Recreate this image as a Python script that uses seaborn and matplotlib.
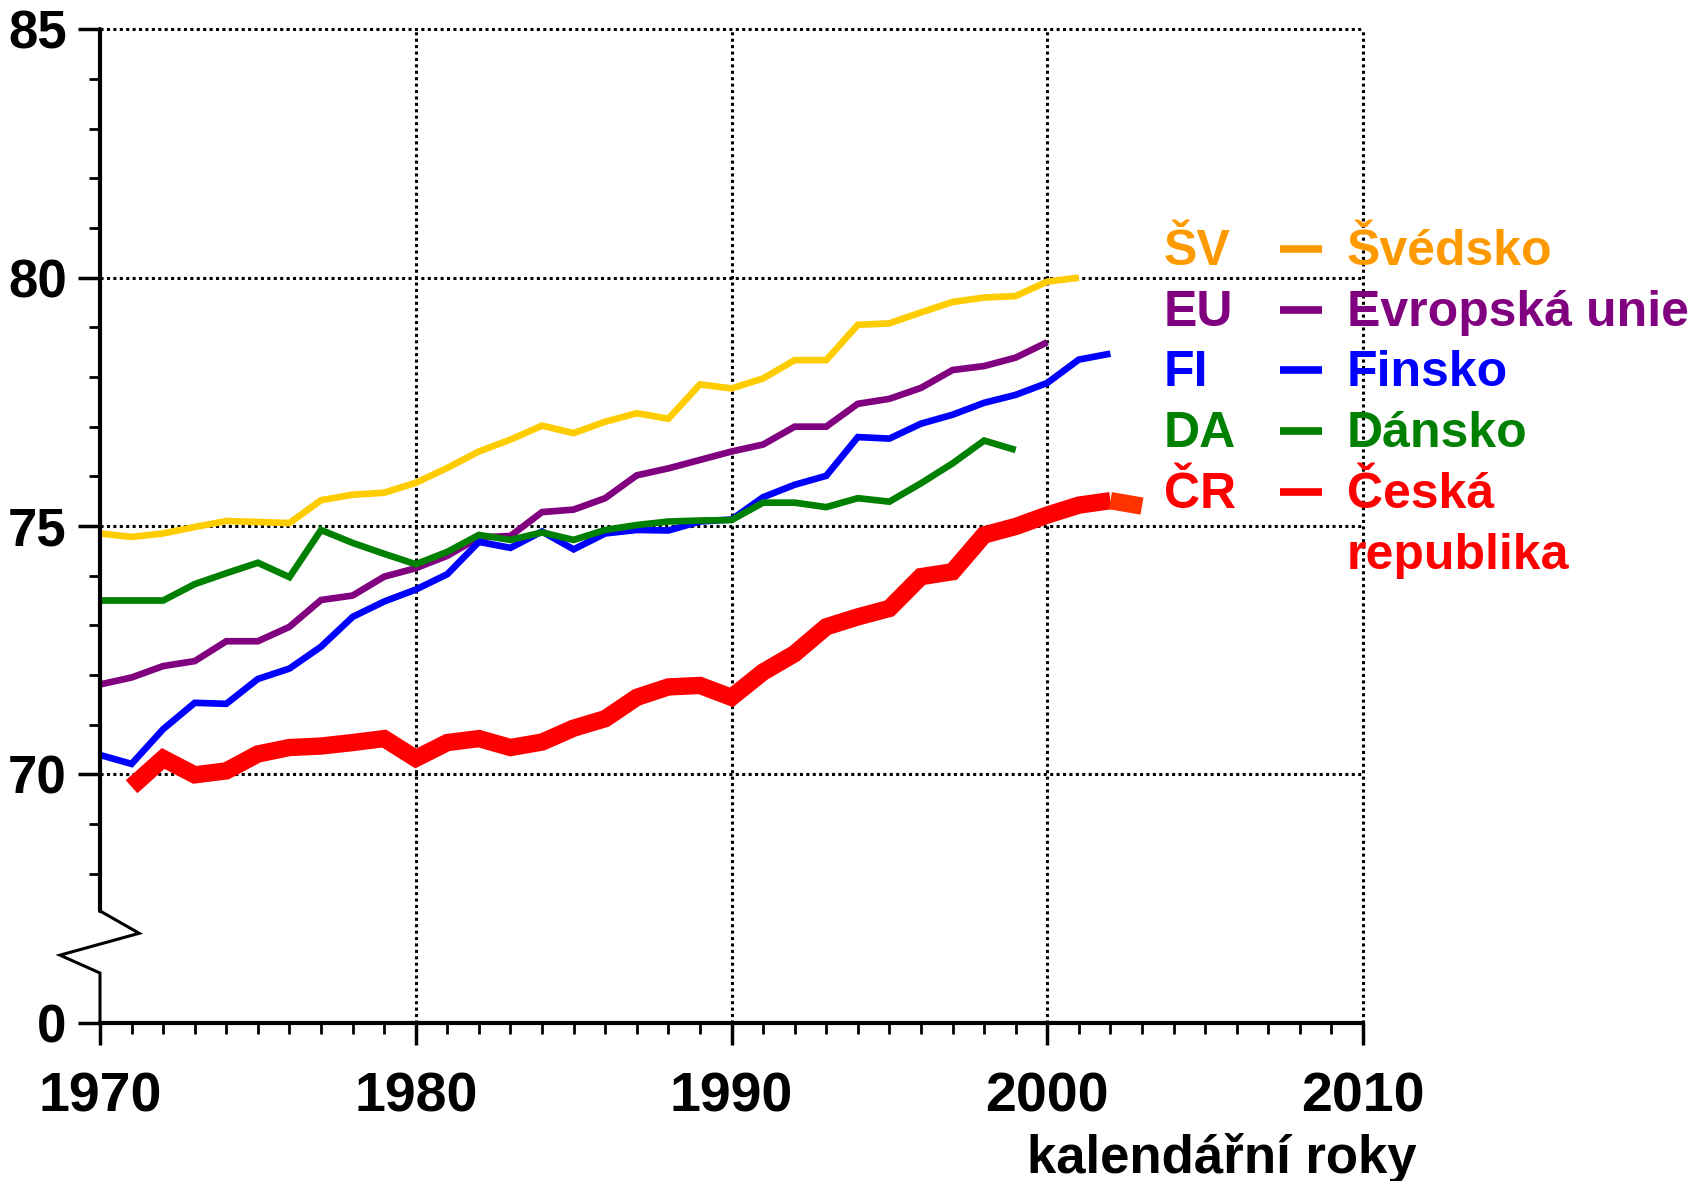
import numpy as np
import pandas as pd
import seaborn as sns
import matplotlib.pyplot as plt
from matplotlib.lines import Line2D

# life expectancy at birth
years_sv = list(range(1970, 2002))
sv = [74.85, 74.78, 74.85, 74.98, 75.10, 75.08, 75.06, 75.52, 75.63, 75.67,
      75.87, 76.17, 76.50, 76.74, 77.02, 76.87, 77.10, 77.27, 77.16, 77.85,
      77.77, 77.97, 78.34, 78.34, 79.05, 79.08, 79.30, 79.51, 79.60, 79.63,
      79.92, 80.00]

years_eu = list(range(1970, 2001))
eu = [71.81, 71.95, 72.18, 72.28, 72.68, 72.68, 72.97, 73.51, 73.60, 73.98,
      74.15, 74.40, 74.77, 74.80, 75.28, 75.33, 75.56, 76.02, 76.16, 76.33,
      76.50, 76.64, 77.00, 77.00, 77.46, 77.56, 77.78, 78.14, 78.22, 78.39,
      78.70]

years_fi = list(range(1970, 2003))
fi = [70.39, 70.21, 70.91, 71.44, 71.42, 71.92, 72.13, 72.57, 73.17, 73.48,
      73.72, 74.03, 74.68, 74.56, 74.89, 74.53, 74.85, 74.92, 74.91, 75.09,
      75.13, 75.58, 75.83, 76.01, 76.79, 76.76, 77.06, 77.24, 77.48, 77.64,
      77.88, 78.35, 78.47]

years_da = list(range(1970, 2000))
da = [73.50, 73.50, 73.50, 73.83, 74.05, 74.26, 73.97, 74.92, 74.66, 74.44,
      74.23, 74.48, 74.82, 74.72, 74.87, 74.72, 74.92, 75.02, 75.09, 75.11,
      75.12, 75.47, 75.47, 75.38, 75.56, 75.49, 75.86, 76.26, 76.72, 76.53]

years_cr = list(range(1971, 2004))
cr = [69.75, 70.32, 69.99, 70.07, 70.41, 70.54, 70.57, 70.64, 70.72, 70.32,
      70.64, 70.72, 70.54, 70.65, 70.93, 71.12, 71.55, 71.76, 71.79, 71.55,
      72.06, 72.43, 72.97, 73.17, 73.34, 73.98, 74.08, 74.82, 74.99, 75.22,
      75.42, 75.51, 75.40]

codes = ['ŠV', 'EU', 'FI', 'DA', 'ČR']
names = ['Švédsko', 'Evropská unie', 'Finsko', 'Dánsko', 'Česká\nrepublika']
legend_colors = ['#FF9900', '#800080', '#0000FF', '#008000', '#FF0000']

sns.set_style('white')
plt.rcParams['font.family'] = ['Liberation Sans', 'DejaVu Sans']
plt.rcParams['font.weight'] = 'bold'
plt.rcParams['text.color'] = 'black'

fig = plt.figure(figsize=(16.96, 11.81), dpi=100)
ax = fig.add_axes([100 / 1696, 158.3 / 1181, 1263 / 1696, 993.4 / 1181])


# broken y axis: 0 sits just under the 66..85 band
def fwd(y):
    y = np.asarray(y, dtype=float)
    return np.where(y >= 66, y, 65 + y / 66)


def inv(p):
    p = np.asarray(p, dtype=float)
    return np.where(p >= 66, p, (p - 65) * 66)


ax.set_yscale('function', functions=(fwd, inv))

lw = 4.8
sns.lineplot(x=years_sv, y=sv, color='#FFCC00', lw=lw, ax=ax, estimator=None)
sns.lineplot(x=years_eu, y=eu, color='#800080', lw=lw, ax=ax, estimator=None)
sns.lineplot(x=years_fi, y=fi, color='#0000FF', lw=lw, ax=ax, estimator=None)
sns.lineplot(x=years_da, y=da, color='#008000', lw=lw, ax=ax, estimator=None)
sns.lineplot(x=years_cr[:-1], y=cr[:-1], color='#FF0000', lw=12.5, ax=ax,
             estimator=None)
sns.lineplot(x=years_cr[-2:], y=cr[-2:], color='#FF3300', lw=12.5, ax=ax,
             estimator=None)
for ln in ax.lines:
    ln.set_solid_capstyle('butt')
    ln.set_solid_joinstyle('miter')

ax.set_xlim(1970, 2010)
ax.set_ylim(0, 85)
ax.set_xticks([1970, 1980, 1990, 2000, 2010])
ax.set_xticks(range(1970, 2011), minor=True)
ax.set_yticks([0, 70, 75, 80, 85])
ax.set_yticks([68, 69, 71, 72, 73, 74, 76, 77, 78, 79, 81, 82, 83, 84], minor=True)

# dotted grid
for v in [70, 75, 80, 85]:
    ax.axhline(v, color='black', lw=2.2, ls=(0, (1, 1.1)), zorder=0, clip_on=False)
for v in [1980, 1990, 2000, 2010]:
    ax.axvline(v, color='black', lw=2.2, ls=(0, (1, 1.1)), zorder=0, clip_on=False)

for s in ['top', 'right', 'left']:
    ax.spines[s].set_visible(False)
ax.spines['bottom'].set_linewidth(3)
ax.spines['bottom'].set_color('black')

# left axis with the zigzag break
ytr = ax.get_yaxis_transform()
ax.plot([0, 0], [67.25, 85], color='black', lw=3, transform=ytr, clip_on=False)
ax.plot([0, 0.031, -0.0317, 0, 0], [67.25, 66.8, 66.36, 66.0, 0],
        color='black', lw=2.2, transform=ytr, clip_on=False,
        solid_joinstyle='miter')

ax.tick_params(axis='both', which='major', direction='out', length=16, width=2.5,
               color='black', labelcolor='black', left=True, bottom=True)
ax.tick_params(axis='both', which='minor', direction='out', length=8, width=2,
               color='black', left=True, bottom=True)
ax.tick_params(axis='y', which='major', labelsize=38, pad=8)
ax.tick_params(axis='x', which='major', labelsize=40, pad=19)
for t in ax.get_xticklabels() + ax.get_yticklabels():
    t.set_fontweight('bold')
ax.set_xlabel('')
ax.set_ylabel('')

fig.text(1417 / 1696, 1 - 1172.5 / 1181, 'kalendářní roky', ha='right',
         va='baseline', fontsize=38, fontweight='bold', color='black')

# text legend at the right
base = [265, 325.6, 386.3, 447, 508]
for code, name, col, b in zip(codes, names, legend_colors, base):
    fig.text(1164 / 1696, 1 - b / 1181, code, color=col, fontsize=36,
             fontweight='bold', va='baseline', ha='left')
    for k, part in enumerate(name.split('\n')):
        fig.text(1347 / 1696, 1 - (b + k * 60.7) / 1181, part, color=col,
                 fontsize=36, fontweight='bold', va='baseline', ha='left')
    yl = 1 - (b - 16) / 1181
    fig.add_artist(Line2D([1280 / 1696, 1322 / 1696], [yl, yl], color=col,
                          lw=5.5, solid_capstyle='butt'))

fig.savefig('out.png', dpi=100)
